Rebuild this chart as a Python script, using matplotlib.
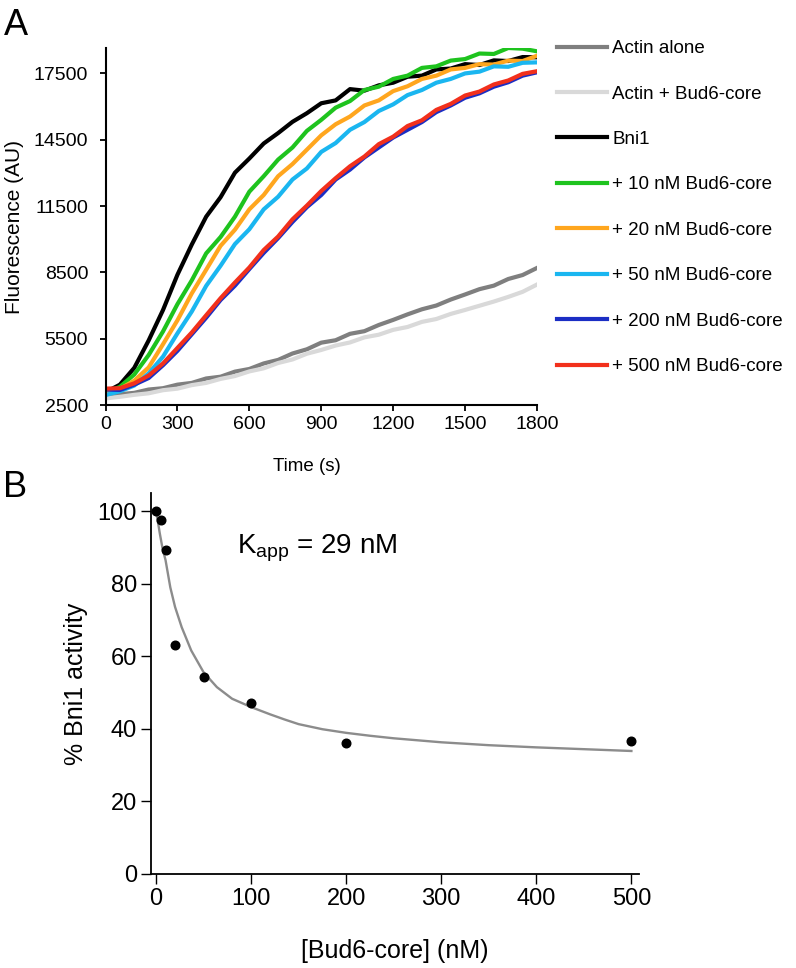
import numpy as np
import matplotlib.pyplot as plt

plt.rcParams['font.family'] = ['Liberation Sans', 'DejaVu Sans']
plt.rcParams['mathtext.fontset'] = 'custom'
plt.rcParams['mathtext.rm'] = 'Liberation Sans'
plt.rcParams['mathtext.it'] = 'Liberation Sans:italic'

# Panel A: pyrene actin assembly traces (values read every 60 s)
time_s = list(range(0, 1801, 60))
actin_alone = [2900, 2990, 3050, 3200, 3260, 3420, 3500, 3700, 3780, 4010, 4130, 4380, 4540, 4830, 5020, 5320,
               5430, 5720, 5840, 6120, 6350, 6600, 6830, 7000, 7270, 7500, 7740, 7900, 8200, 8380, 8700]
actin_bud6 = [2800, 2870, 2960, 3030, 3170, 3240, 3400, 3500, 3680, 3810, 4020, 4160, 4400, 4560, 4820, 4990,
              5190, 5330, 5560, 5680, 5900, 6030, 6260, 6390, 6620, 6800, 6990, 7180, 7390, 7620, 7950]
bni1 = [3075, 3420, 4180, 5420, 6800, 8390, 9760, 11020, 11900, 13010, 13650, 14330, 14800, 15310, 15700, 16150,
        16280, 16790, 16720, 16960, 17080, 17350, 17400, 17680, 17720, 17920, 17880, 18090, 18060, 18240, 18230]
bud6_10 = [3050, 3320, 3880, 4760, 5830, 7060, 8140, 9360, 10100, 11020, 12150, 12850, 13600, 14150, 14900, 15400,
           15950, 16250, 16750, 16900, 17250, 17400, 17750, 17820, 18080, 18150, 18400, 18380, 18650, 18620, 18500]
bud6_20 = [3100, 3230, 3600, 4200, 5250, 6330, 7550, 8620, 9700, 10430, 11350, 12000, 12850, 13400, 14050, 14700,
           15200, 15550, 16050, 16280, 16700, 16920, 17250, 17400, 17680, 17750, 17920, 17900, 18080, 18060, 18300]
bud6_50 = [2950, 3120, 3380, 3930, 4690, 5740, 6730, 7890, 8800, 9780, 10450, 11350, 11920, 12700, 13200, 13950,
           14350, 14950, 15300, 15800, 16100, 16520, 16750, 17080, 17250, 17500, 17580, 17820, 17800, 17980, 18000]
bud6_200 = [3200, 3180, 3420, 3720, 4300, 4950, 5700, 6450, 7250, 7900, 8650, 9380, 10050, 10780, 11450, 12000,
            12700, 13150, 13700, 14150, 14600, 14950, 15300, 15750, 16050, 16400, 16600, 16900, 17100, 17400, 17550]
bud6_500 = [3240, 3260, 3480, 3830, 4380, 5080, 5780, 6560, 7330, 8040, 8720, 9510, 10120, 10900, 11520, 12180,
            12760, 13300, 13740, 14300, 14640, 15120, 15380, 15850, 16120, 16500, 16680, 17000, 17180, 17480, 17600]

labels = ['Actin alone', 'Actin + Bud6-core', 'Bni1', '+ 10 nM Bud6-core', '+ 20 nM Bud6-core',
          '+ 50 nM Bud6-core', '+ 200 nM Bud6-core', '+ 500 nM Bud6-core']
colors = ['#7f7f7f', '#d9d9d9', '#000000', '#1ec31e', '#ffa61e', '#1ab6f0', '#1b2ec4', '#f2301c']
traces = [actin_alone, actin_bud6, bni1, bud6_10, bud6_20, bud6_50, bud6_200, bud6_500]

# Panel B: inhibition of Bni1 by Bud6-core
conc_nM = [0, 5, 10, 20, 50, 100, 200, 500]
activity = [100, 97.5, 89.2, 63.0, 54.2, 47.2, 36.1, 36.7]
fit_x = [0, 2, 4, 7, 10, 15, 20, 27, 37, 50, 64, 80, 100, 120, 135, 150, 175, 200, 225, 250, 300, 350,
         400, 450, 500]
fit_y = [100, 97.0, 93.8, 89.5, 86.5, 79.0, 73.6, 68.0, 61.6, 55.6, 51.5, 48.3, 46.0, 44.0, 42.6, 41.3,
         39.9, 38.9, 38.1, 37.4, 36.3, 35.5, 34.9, 34.4, 33.9]

W, H = 796, 968
fig = plt.figure(figsize=(W / 100, H / 100), dpi=100)

# ---- panel A
axA = fig.add_axes([105.5 / W, 1 - 405 / H, (537 - 105.5) / W, (405 - 48) / H])
for y, c, lab in zip(traces, colors, labels):
    axA.plot(time_s, y, color=c, lw=3.0, label=lab, solid_joinstyle='round')
axA.set_xlim(0, 1800)
axA.set_ylim(2500, 18650)
axA.set_xticks(range(0, 1801, 300))
axA.set_yticks(range(2500, 17501, 3000))
for s in ['top', 'right']:
    axA.spines[s].set_visible(False)
for s in ['left', 'bottom']:
    axA.spines[s].set_linewidth(1.5)
axA.tick_params(axis='y', direction='out', length=4.5, width=1.3, labelsize=14, pad=8)
axA.tick_params(axis='x', direction='out', length=4, width=1.3, labelsize=14, pad=4)
axA.set_ylabel('Fluorescence (AU)', fontsize=15, labelpad=7)
axA.set_xlabel('Time (s)', fontsize=13.5, labelpad=18, x=0.467)

handles, labs = axA.get_legend_handles_labels()
fig.legend(handles, labs, loc='upper left', bbox_to_anchor=(557 / W, 1 - 40 / H), frameon=False,
           fontsize=13.5, handlelength=2.67, handletextpad=0.27, labelspacing=1.51,
           borderpad=0, borderaxespad=0)

# ---- panel B
axB = fig.add_axes([151 / W, 1 - 874 / H, (639 - 151) / W, (874 - 493) / H])
axB.plot(fit_x, fit_y, color='#8c8c8c', lw=1.7, zorder=2)
axB.plot(conc_nM, activity, 'o', color='black', ms=6.2, zorder=3)
axB.set_xlim(-5.3, 508)
axB.set_ylim(0, 105)
axB.set_xticks(range(0, 501, 100))
axB.set_yticks(range(0, 101, 20))
for s in ['top', 'right']:
    axB.spines[s].set_visible(False)
for s in ['left', 'bottom']:
    axB.spines[s].set_linewidth(1.3)
axB.tick_params(direction='out', length=7, width=1.0, labelsize=17, pad=3)
axB.set_ylabel('% Bni1 activity', fontsize=18, labelpad=7)
axB.set_xlabel('[Bud6-core] (nM)', fontsize=18, labelpad=21)
axB.text(85, 88.4, r'K$_{\mathrm{app}}$ = 29 nM', fontsize=20, ha='left', va='baseline')

fig.text(4 / W, 1 - 8 / H, 'A', fontsize=26, va='top', ha='left')
fig.text(3 / W, 1 - 470 / H, 'B', fontsize=26, va='top', ha='left')

fig.savefig('out.png', dpi=100)
